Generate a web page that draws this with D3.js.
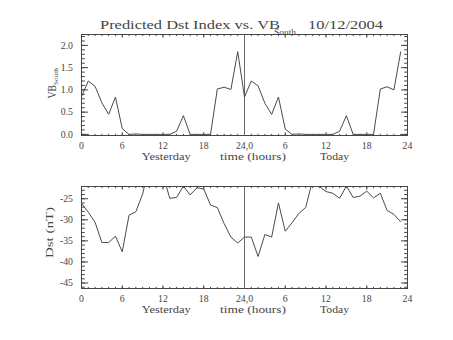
<!DOCTYPE html>
<html>
<head>
<meta charset="utf-8">
<script src="https://cdn.jsdelivr.net/npm/d3@7"></script>
<style>
  html, body { margin: 0; padding: 0; background: #fff; }
  svg { display: block; }
</style>
</head>
<body>
<svg id="chart" width="453" height="340"></svg>
<script>
// ---------------- data ----------------
const hours = [0,1,2,3,4,5,6,7,8,9,10,11,12,13,14,15,16,17,18,19,20,21,22,23,
               24,25,26,27,28,29,30,31,32,33,34,35,36,37,38,39,40,41,42,43,44,45,46,47];
const vbSouth = [0.85,1.20,1.08,0.71,0.45,0.84,0.13,0,0.01,0,0,0,0,0,0.07,0.42,0,0,0,0,1.02,1.06,1.01,1.86,
                 0.84,1.20,1.09,0.70,0.45,0.84,0.12,0,0.01,0,0,0,0,0,0.07,0.42,0,0,0,0,1.02,1.07,1.00,1.86];
const dst = [-26.1,-28.2,-30.6,-35.4,-35.4,-33.9,-37.6,-28.9,-28.1,-23.9,-17.0,-17.5,-19.3,-24.9,-24.7,-22.0,
             -24.1,-22.4,-22.7,-26.5,-27.1,-30.9,-34.1,-35.5,-34.1,-34.1,-38.7,-33.5,-34.1,-26.0,-32.7,-30.7,
             -28.5,-27.1,-20.8,-22.1,-23.3,-23.7,-24.9,-22.0,-24.7,-24.4,-23.2,-24.8,-23.7,-27.8,-28.7,-30.5];
const xMajorTicks = [0,6,12,18,24,30,36,42,48];
const xTickLabels = ["0","6","12","18","24,0","6","12","18","24"];
const vbTicks = [0,0.5,1,1.5,2];
const vbTickLabels = ["0.0","0.5","1.0","1.5","2.0"];
const dstTicks = [-45,-40,-35,-30,-25];
const dstTickLabels = ["-45","-40","-35","-30","-25"];
const xTitleParts = ["Yesterday","time (hours)","Today"];
const titleMain = "Predicted Dst Index vs. VB";
const titleSub = "South";
const titleDate = "10/12/2004";

// ---------------- drawing ----------------
const C = "#454545";
const LINE = "#4a4a4a";
const SEP = "#6a6a6a";
const FONT = "'Liberation Serif', 'DejaVu Serif', serif";
const svg = d3.select("#chart");
svg.append("rect").attr("width",453).attr("height",340).attr("fill","#fff");

const L = 81.5, R = 407.5;
const x = d3.scaleLinear().domain([0,48]).range([L,R]);
const xMinor = d3.range(0,49,1);

function panel(cfg){
  const {top, bottom, domain, values, yTicks, yLabels, yMinor, id} = cfg;
  const y = d3.scaleLinear().domain(domain).range([bottom, top]);
  const g = svg.append("g");

  svg.append("clipPath").attr("id", id).append("rect")
    .attr("x", L).attr("y", top).attr("width", R-L).attr("height", bottom-top);

  const fmtNone = () => "";
  const put = (axis, tr) => {
    const a = g.append("g").attr("transform", tr).call(axis);
    a.select(".domain").remove();
    a.selectAll("line").attr("stroke", C);
    return a;
  };
  put(d3.axisBottom(x).tickValues(xMinor).tickSize(-1.6).tickSizeOuter(0).tickFormat(fmtNone).offset(0), `translate(0,${bottom})`);
  put(d3.axisTop(x).tickValues(xMinor).tickSize(-1.6).tickSizeOuter(0).tickFormat(fmtNone).offset(0), `translate(0,${top})`);
  put(d3.axisTop(x).tickValues(xMajorTicks).tickSize(-3.2).tickSizeOuter(0).tickFormat(fmtNone).offset(0), `translate(0,${top})`);
  const xb = put(d3.axisBottom(x).tickValues(xMajorTicks).tickSize(-3.2).tickSizeOuter(0).tickPadding(7)
      .tickFormat((d,i) => xTickLabels[i]).offset(0), `translate(0,${bottom})`);
  xb.selectAll("text").attr("fill", C).attr("font-family", FONT).attr("font-size", 9.8);

  put(d3.axisLeft(y).tickValues(yMinor).tickSize(-3.3).tickSizeOuter(0).tickFormat(fmtNone).offset(0), `translate(${L},0)`);
  put(d3.axisRight(y).tickValues(yMinor).tickSize(-3.3).tickSizeOuter(0).tickFormat(fmtNone).offset(0), `translate(${R},0)`);
  put(d3.axisRight(y).tickValues(yTicks).tickSize(-6.5).tickSizeOuter(0).tickFormat(fmtNone).offset(0), `translate(${R},0)`);
  const yl = put(d3.axisLeft(y).tickValues(yTicks).tickSize(-6.5).tickSizeOuter(0).tickPadding(8.5)
      .tickFormat((d,i) => yLabels[i]).offset(0), `translate(${L},0)`);
  yl.selectAll("text").attr("fill", C).attr("font-family", FONT).attr("font-size", 9.8);

  g.append("rect").attr("x", L).attr("y", top).attr("width", R-L).attr("height", bottom-top)
    .attr("fill", "none").attr("stroke", C).attr("stroke-width", 1);

  g.append("line").attr("x1", x(24)).attr("x2", x(24)).attr("y1", top).attr("y2", bottom)
    .attr("stroke", SEP).attr("stroke-width", 1);

  const line = d3.line().x((d,i) => x(hours[i])).y(d => y(d));
  g.append("path").datum(values).attr("d", line).attr("clip-path", `url(#${id})`)
    .attr("fill", "none").attr("stroke", LINE).attr("stroke-width", 1);

  const xt = [[141.7, 49], [220, 66], [320, 29]];
  xTitleParts.forEach((t,i) => {
    g.append("text").attr("x", xt[i][0]).attr("y", bottom + 24.5).text(t)
      .attr("font-family", FONT).attr("font-size", 10.5).attr("fill", C)
      .attr("textLength", xt[i][1]).attr("lengthAdjust", "spacingAndGlyphs");
  });
  return g;
}

panel({id:"clipA", top:34.5, bottom:135.5, domain:[-0.025, 2.245], values: vbSouth,
       yTicks: vbTicks, yLabels: vbTickLabels, yMinor: d3.range(0, 23).map(i => i/10)});
panel({id:"clipB", top:186.5, bottom:288.5, domain:[-46.3, -22.1], values: dst,
       yTicks: dstTicks, yLabels: dstTickLabels, yMinor: d3.range(-46, -22)});

const tg = svg.append("g").attr("fill", C).attr("font-family", FONT);
tg.append("text").attr("x", 100).attr("y", 28.5).text(titleMain).attr("font-size", 12.5)
  .attr("textLength", 180).attr("lengthAdjust", "spacingAndGlyphs");
tg.append("text").attr("x", 274).attr("y", 34.8).text(titleSub).attr("font-size", 7.5)
  .attr("textLength", 22).attr("lengthAdjust", "spacingAndGlyphs");
tg.append("text").attr("x", 308).attr("y", 28.5).text(titleDate).attr("font-size", 12.5)
  .attr("textLength", 75).attr("lengthAdjust", "spacingAndGlyphs");

const y1 = svg.append("g").attr("fill", C).attr("font-family", FONT);
y1.append("text").attr("transform", "translate(55.5,98.5) rotate(-90)").text("VB")
  .attr("font-size", 11.5).attr("textLength", 13.5).attr("lengthAdjust", "spacingAndGlyphs");
y1.append("text").attr("transform", "translate(57.8,85) rotate(-90)").text("South")
  .attr("font-size", 7).attr("textLength", 17).attr("lengthAdjust", "spacingAndGlyphs");
y1.append("text").attr("transform", "translate(53,258) rotate(-90)").text("Dst (nT)")
  .attr("font-size", 11).attr("textLength", 51).attr("lengthAdjust", "spacingAndGlyphs");
</script>
</body>
</html>
